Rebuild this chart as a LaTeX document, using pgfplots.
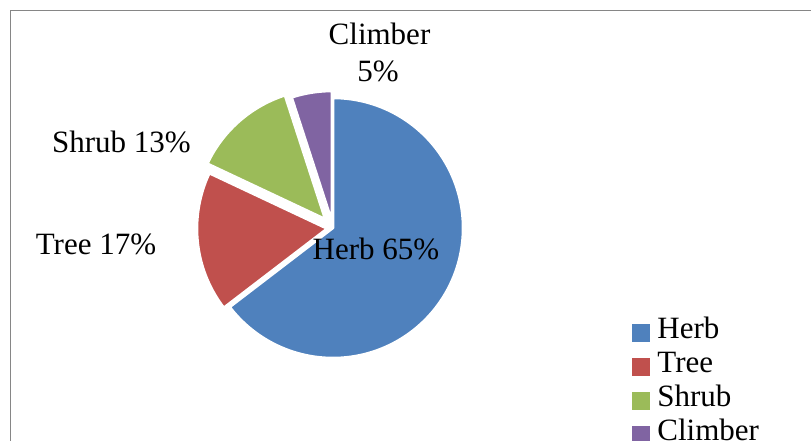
\documentclass[border=0pt]{standalone}
\usepackage{fontspec}
\setmainfont{Liberation Serif}
\usepackage{pgfplots}
\pgfplotsset{compat=1.18}
\definecolor{herbc}{HTML}{4F81BD}
\definecolor{treec}{HTML}{C0504D}
\definecolor{shrubc}{HTML}{9BBB59}
\definecolor{climberc}{HTML}{8064A2}
\definecolor{framec}{HTML}{868686}
% data (percent; labels rounded)
\def\vHerb{64.6}
\def\vTree{17.4}
\def\vShrub{13.0}
\def\vClimber{5.0}
% geometry (pixels)
\def\cx{333}
\def\cy{213}
\def\R{130}
\begin{document}
\begin{tikzpicture}[font=\fontsize{31pt}{37pt}\selectfont]
\useasboundingbox (0,0) rectangle (811pt,441pt);
\clip (0,0) rectangle (811pt,441pt);
\draw[framec, line width=1.3pt] (10.5pt,-20pt) rectangle (830pt,430.5pt);
\begin{axis}[at={(0pt,0pt)}, anchor=south west,
  width=811pt, height=441pt, scale only axis,
  xmin=0, xmax=811, ymin=0, ymax=441,
  hide axis, clip=false,
  legend cell align=left,
  legend style={at={(axis cs:632,125)}, anchor=north west,
    draw=none, fill=none, inner sep=0pt, outer sep=0pt,
    row sep=0pt, column sep=8pt,
    nodes={inner sep=0pt, text height=23pt, text depth=11pt},
    font=\fontsize{31pt}{37pt}\selectfont},
]
% Herb
\addplot[forget plot, fill=herbc, draw=white, line width=2.5pt, line join=round,
  domain={90+3.6*(\vClimber+\vShrub+\vTree)}:{450}, samples=150]
  ({\cx+\R*cos(x)},{\cy+\R*sin(x)}) -- (axis cs:\cx,\cy) -- cycle;
% Tree
\addplot[forget plot, fill=treec, draw=white, line width=2.5pt, line join=round,
  domain={90+3.6*(\vClimber+\vShrub)}:{90+3.6*(\vClimber+\vShrub+\vTree)}, samples=60]
  ({\cx+6*cos(90+3.6*(\vClimber+\vShrub+\vTree/2))+\R*cos(x)},
   {\cy+6*sin(90+3.6*(\vClimber+\vShrub+\vTree/2))+\R*sin(x)})
  -- (axis cs:{\cx+6*cos(90+3.6*(\vClimber+\vShrub+\vTree/2))},{\cy+6*sin(90+3.6*(\vClimber+\vShrub+\vTree/2))}) -- cycle;
% Shrub
\addplot[forget plot, fill=shrubc, draw=white, line width=2.5pt, line join=round,
  domain={90+3.6*\vClimber}:{90+3.6*(\vClimber+\vShrub)}, samples=60]
  ({\cx+12*cos(90+3.6*(\vClimber+\vShrub/2))+\R*cos(x)},
   {\cy+12*sin(90+3.6*(\vClimber+\vShrub/2))+\R*sin(x)})
  -- (axis cs:{\cx+12*cos(90+3.6*(\vClimber+\vShrub/2))},{\cy+12*sin(90+3.6*(\vClimber+\vShrub/2))}) -- cycle;
% Climber
\addplot[forget plot, fill=climberc, draw=white, line width=2.5pt, line join=round,
  domain=90:{90+3.6*\vClimber}, samples=30]
  ({\cx+7*cos(90+3.6*\vClimber/2)+\R*cos(x)},
   {\cy+7*sin(90+3.6*\vClimber/2)+\R*sin(x)})
  -- (axis cs:{\cx+7*cos(90+3.6*\vClimber/2)},{\cy+7*sin(90+3.6*\vClimber/2)}) -- cycle;

\addlegendimage{legend image code/.code={\fill[herbc] (0pt,-8.5pt) rectangle (17pt,8.5pt);}}
\addlegendentry{Herb}
\addlegendimage{legend image code/.code={\fill[treec] (0pt,-8.5pt) rectangle (17pt,8.5pt);}}
\addlegendentry{Tree}
\addlegendimage{legend image code/.code={\fill[shrubc] (0pt,-8.5pt) rectangle (17pt,8.5pt);}}
\addlegendentry{Shrub}
\addlegendimage{legend image code/.code={\fill[climberc] (0pt,-8.5pt) rectangle (17pt,8.5pt);}}
\addlegendentry{Climber}

\node[anchor=base] at (axis cs:376,181) {Herb 65\%};
\node[anchor=base] at (axis cs:96,186) {Tree 17\%};
\node[anchor=base] at (axis cs:121.5,288) {Shrub 13\%};
\node[anchor=base] at (axis cs:379.5,396) {Climber};
\node[anchor=base] at (axis cs:378,359) {5\%};
\end{axis}
\end{tikzpicture}
\end{document}
